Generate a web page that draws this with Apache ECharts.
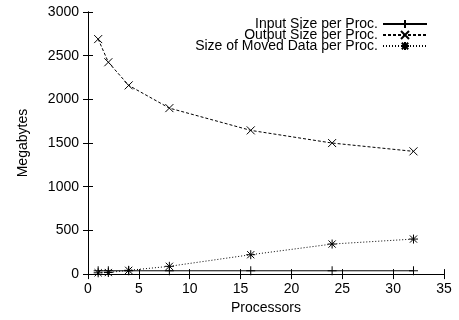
<!DOCTYPE html>
<html>
<head>
<meta charset="utf-8">
<script src="https://cdn.jsdelivr.net/npm/echarts@6/dist/echarts.min.js"></script>
<style>html,body{margin:0;padding:0;background:#fff}#c{width:459px;height:320px}</style>
</head>
<body>
<div id="c"></div>
<script>
const processors = [1, 2, 4, 8, 16, 24, 32];
const inputSize = [38, 38, 38, 38, 38, 38, 38];
const outputSize = [2690, 2425, 2160, 1900, 1645, 1500, 1405];
const movedData = [15, 18, 43, 89, 222, 344, 401];
const seriesNames = ['Input Size per Proc.', 'Output Size per Proc.', 'Size of Moved Data per Proc.'];

const FONT = 'Liberation Sans, Arial, Helvetica, sans-serif';
const plusPath = 'path://M0,5L10,5M5,0L5,10';
const crossPath = 'path://M0,0L10,10M0,10L10,0';
const starPath = 'path://M0,5L10,5M5,0L5,10M1,1L9,9M1,9L9,1';
const mk = arr => processors.map((p, i) => [p, arr[i]]);

const chart = echarts.init(document.getElementById('c'), null, {renderer: 'canvas'});
const sym = {color: 'none', borderColor: '#000', borderWidth: 1};
const legendBase = {orient: 'horizontal', align: 'right', right: 31, itemWidth: 44, itemHeight: 10, itemGap: 0, padding: 0,
  textStyle: {fontFamily: FONT, fontSize: 14, color: '#000'}, selectedMode: false};
chart.setOption({
  animation: false,
  grid: {left: 88, right: 15, top: 12, bottom: 45},
  legend: [
    Object.assign({}, legendBase, {data: [seriesNames[0]], top: 17}),
    Object.assign({}, legendBase, {data: [seriesNames[1]], top: 28}),
    Object.assign({}, legendBase, {data: [seriesNames[2]], top: 39})
  ],
  xAxis: [{
    type: 'value', min: 0, max: 35, interval: 5,
    name: 'Processors', nameLocation: 'middle', nameGap: 20,
    nameTextStyle: {fontFamily: FONT, fontSize: 14, color: '#000'},
    axisLine: {lineStyle: {color: '#000', width: 1}},
    axisTick: {inside: true, length: 5, lineStyle: {color: '#000'}},
    axisLabel: {fontFamily: FONT, fontSize: 14, color: '#000', margin: 8, formatter: v => String(v)},
    splitLine: {show: false}
  }, {
    type: 'value', min: 0, max: 35, interval: 5, position: 'top',
    axisLine: {show: true, lineStyle: {color: '#000', width: 1}},
    axisTick: {show: true, inside: true, length: 5, lineStyle: {color: '#000'}},
    axisLabel: {show: false}, splitLine: {show: false}
  }],
  yAxis: [{
    type: 'value', min: 0, max: 3000, interval: 500,
    name: 'Megabytes', nameLocation: 'middle', nameGap: 58,
    nameTextStyle: {fontFamily: FONT, fontSize: 14, color: '#000'},
    axisLine: {show: true, lineStyle: {color: '#000', width: 1}},
    axisTick: {show: true, inside: true, length: 5, lineStyle: {color: '#000'}},
    axisLabel: {fontFamily: FONT, fontSize: 14, color: '#000', margin: 9, formatter: v => String(v)},
    splitLine: {show: false}
  }, {
    type: 'value', min: 0, max: 3000, interval: 500, position: 'right',
    axisLine: {show: true, lineStyle: {color: '#000', width: 1}},
    axisTick: {show: true, inside: true, length: 5, lineStyle: {color: '#000'}},
    axisLabel: {show: false}, splitLine: {show: false}
  }],
  series: [{
    name: seriesNames[0], type: 'line', data: mk(inputSize),
    symbol: plusPath, symbolSize: 9, showAllSymbol: true,
    lineStyle: {color: '#000', width: 1, type: 'solid'}, itemStyle: sym
  }, {
    name: seriesNames[1], type: 'line', data: mk(outputSize),
    symbol: crossPath, symbolSize: 8,
    lineStyle: {color: '#000', width: 1, type: [3, 2]}, itemStyle: sym
  }, {
    name: seriesNames[2], type: 'line', data: mk(movedData),
    symbol: starPath, symbolSize: 9,
    lineStyle: {color: '#000', width: 1, type: [1, 2]}, itemStyle: sym
  }]
});
</script>
</body>
</html>
